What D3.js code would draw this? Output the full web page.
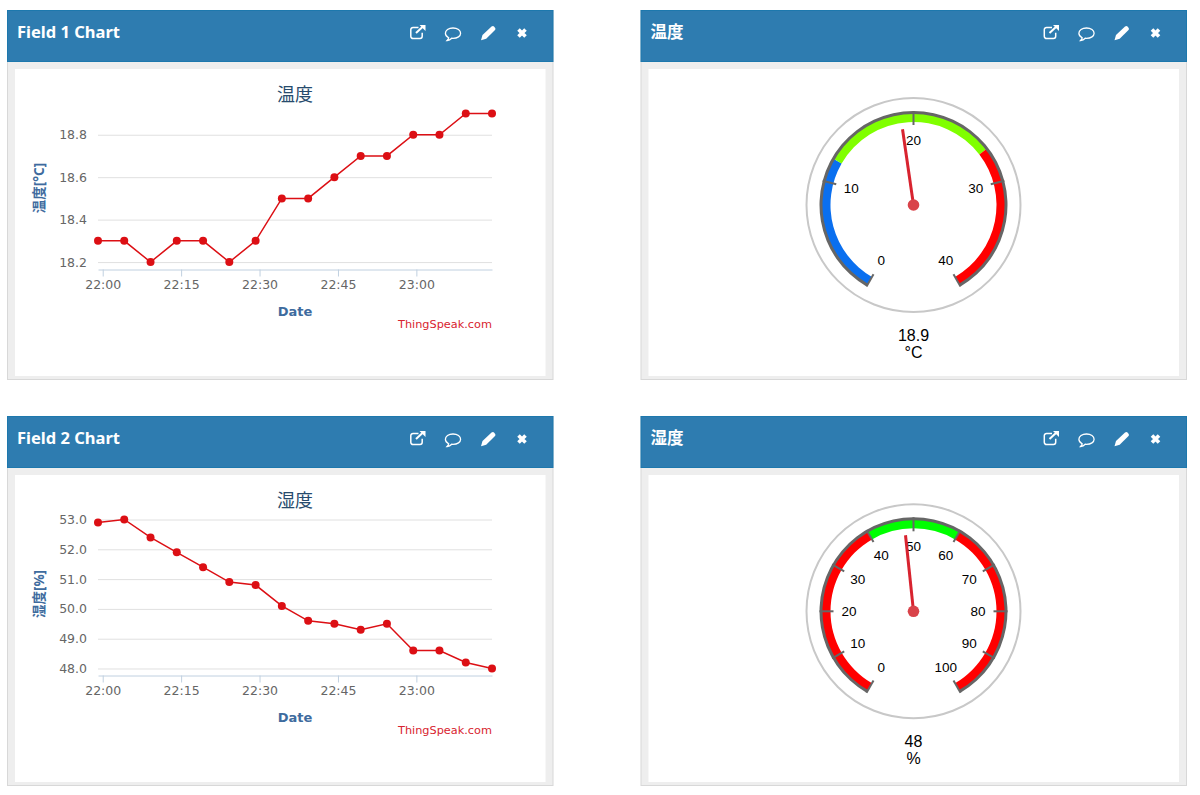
<!DOCTYPE html>
<html>
<head>
<meta charset="utf-8">
<title>Channel</title>
<script src="https://cdn.jsdelivr.net/npm/d3@7"></script>
<style>
  body { margin: 0; background: #fff; }
  svg { display: block; }
  .grid .tick line { stroke: #e0e0e0; }
  .grid .tick text { fill: #666; font: 12.5px "DejaVu Sans"; }
  .xaxis path, .xaxis line { stroke: #c0d0e0; }
  .xaxis text { fill: #666; font: 12.5px "DejaVu Sans"; }
  .gauge-label { font: 13.5px "Liberation Sans"; fill: #000; text-anchor: middle; dominant-baseline: central; }
  .gauge-value { font: 16px "Liberation Sans"; fill: #000; text-anchor: middle; dominant-baseline: central; }
</style>
</head>
<body>
<svg id="page" width="1200" height="795"></svg>
<script>
// sample times, both charts share them
var sampleTimes = ["21:59:06","22:04:07","22:09:09","22:14:10","22:19:12","22:24:13","22:29:15","22:34:16",
                   "22:39:18","22:44:19","22:49:21","22:54:22","22:59:24","23:04:25","23:09:27","23:14:28"];
var timeTicks = ["22:00:00","22:15:00","22:30:00","22:45:00","23:00:00"];

var field1Values = [18.3,18.3,18.2,18.3,18.3,18.2,18.3,18.5,18.5,18.6,18.7,18.7,18.8,18.8,18.9,18.9];
var field2Values = [52.9,53.0,52.4,51.9,51.4,50.9,50.8,50.1,49.6,49.5,49.3,49.5,48.6,48.6,48.2,48.0];
var field1Ticks = [18.2,18.4,18.6,18.8];
var field2Ticks = [48,49,50,51,52,53];

var tempTicks = [0,10,20,30,40];
var tempBands = [[0,12,"#0a6fef"],[12,27,"#80ff00"],[27,40,"#ff0000"]];
var humTicks = [0,10,20,30,40,50,60,70,80,90,100];
var humBands = [[0,40,"#ff0000"],[40,60,"#00ff00"],[60,100,"#ff0000"]];

var svg = d3.select("#page");
var parseT = d3.timeParse("%H:%M:%S");
var uiFont = '"DejaVu Sans"';
var cjkFont = '"Noto Sans CJK JP"';

function drawPanel(x, y, w, h, title) {
    var g = svg.append("g").attr("transform", "translate(" + x + "," + y + ")");
    g.append("rect").attr("x", 0.5).attr("y", 0.5).attr("width", w - 1).attr("height", h - 1)
        .attr("fill", "#eeeeee").attr("stroke", "#d8d8d8");
    g.append("rect").attr("x", 8).attr("y", 59).attr("width", w - 16).attr("height", h - 63).attr("fill", "#fff");
    g.append("rect").attr("x", 0.5).attr("y", 0.5).attr("width", w - 1).attr("height", 51)
        .attr("fill", "#2e7cb0").attr("stroke", "#1d78ad");
    g.append("text").attr("x", 10).attr("y", 21).attr("dominant-baseline", "central")
        .attr("fill", "#fff").attr("font-weight", "bold")
        .attr("font-family", '"Noto Sans",' + cjkFont).attr("font-size", 16.5).text(title);

    // header icons
    var ic = g.append("g").attr("transform", "translate(" + (w - 143.5) + ",0)");
    // external link
    ic.append("path").attr("d", "M8.5 17.5 H3 a2.2 2.2 0 0 0 -2.2 2.2 v6.6 a2.2 2.2 0 0 0 2.2 2.2 h7 a2.2 2.2 0 0 0 2.2 -2.2 v-3.5")
        .attr("fill", "none").attr("stroke", "#fff").attr("stroke-width", 1.5);
    ic.append("path").attr("d", "M6 23 L13 16.5").attr("stroke", "#fff").attr("stroke-width", 2);
    ic.append("path").attr("d", "M9.5 15 H15.5 V21 Z").attr("fill", "#fff");
    // comment
    ic.append("path").attr("d", "M43 18 c-4.5 0 -7.6 2.4 -7.6 5.3 c0 2 1.4 3.6 3.3 4.5 c-.2 1.1 -.8 1.8 -1.6 2.7 c1.8 -.2 3.4 -1 4.6 -2.3 c.4 .1 .9 .1 1.3 .1 c4.5 0 7.6 -2.2 7.6 -5 c0 -2.9 -3.1 -5.3 -7.6 -5.3 z")
        .attr("fill", "none").attr("stroke", "#fff").attr("stroke-width", 1.3);
    // pencil
    ic.append("path").attr("d", "M71 30.2 L72.5 25 L81.5 16.5 Q83 15.5 84 16.5 L85 17.7 Q86 19 85 20 L76.2 28.8 Z").attr("fill", "#fff");
    // close
    ic.append("path").attr("d", "M108.5 19.5 L115.5 26.5 M115.5 19.5 L108.5 26.5")
        .attr("stroke", "#fff").attr("stroke-width", 3.6).attr("fill", "none");
    return g;
}

function drawLineChart(g, values, ticks, yDomain, title, yTitle) {
    var times = sampleTimes.map(parseT);
    var xScale = d3.scaleTime().domain([times[0], times[times.length - 1]]).range([91, 485]);
    var yScale = d3.scaleLinear().domain(yDomain).range([259.5, 103.5]);

    g.append("g").attr("class", "grid").attr("transform", "translate(91,0)")
        .call(d3.axisLeft(yScale).tickValues(ticks).tickSize(-394).tickPadding(11).tickFormat(d3.format(".1f")))
        .call(function (a) { a.select(".domain").remove(); });

    g.append("g").attr("class", "xaxis").attr("transform", "translate(0,259.5)")
        .call(d3.axisBottom(xScale).tickValues(timeTicks.map(parseT)).tickSizeInner(7).tickSizeOuter(0)
            .tickPadding(4).tickFormat(d3.timeFormat("%H:%M")));

    var line = d3.line().x(function (d, i) { return xScale(times[i]); }).y(function (d) { return yScale(d); });
    g.append("path").datum(values).attr("d", line).attr("fill", "none").attr("stroke", "#dc0f14").attr("stroke-width", 1.5);
    g.selectAll("circle.pt").data(values).enter().append("circle").attr("class", "pt")
        .attr("cx", function (d, i) { return xScale(times[i]); })
        .attr("cy", function (d) { return yScale(d); })
        .attr("r", 4).attr("fill", "#dc0f14");

    g.append("text").attr("x", 288).attr("y", 83).attr("text-anchor", "middle").attr("dominant-baseline", "central")
        .attr("fill", "#274b6d").attr("font-family", cjkFont).attr("font-size", 18).text(title);
    g.append("text").attr("transform", "translate(32,178) rotate(-90)").attr("text-anchor", "middle")
        .attr("dominant-baseline", "central").attr("fill", "#3e6b9e").attr("font-weight", "bold")
        .attr("font-family", '"Noto Sans",' + cjkFont).attr("font-size", 13.5).text(yTitle);
    g.append("text").attr("x", 288).attr("y", 301.5).attr("text-anchor", "middle").attr("dominant-baseline", "central")
        .attr("fill", "#3e6b9e").attr("font-weight", "bold").attr("font-family", uiFont).attr("font-size", 13).text("Date");
    g.append("text").attr("x", 485).attr("y", 314).attr("text-anchor", "end").attr("dominant-baseline", "central")
        .attr("fill", "#d8232f").attr("font-family", uiFont).attr("font-size", 11.3).text("ThingSpeak.com");
}

function drawGauge(g, cx, cy, max, ticks, bands, value, unit) {
    var gauge = g.append("g").attr("transform", "translate(" + cx + "," + cy + ")");
    var angle = d3.scaleLinear().domain([0, max]).range([-150, 150]);
    var rad = function (v) { return angle(v) * Math.PI / 180; };

    gauge.append("circle").attr("r", 107).attr("fill", "none").attr("stroke", "#c8c8c8").attr("stroke-width", 2);

    var bandArc = d3.arc().innerRadius(83).outerRadius(92);
    gauge.selectAll("path.band").data(bands).enter().append("path").attr("class", "band")
        .attr("fill", function (d) { return d[2]; })
        .attr("d", function (d) { return bandArc({ startAngle: rad(d[0]), endAngle: rad(d[1]) }); });

    gauge.append("path").attr("fill", "#666")
        .attr("d", d3.arc().innerRadius(91).outerRadius(94)({ startAngle: rad(0), endAngle: rad(max) }));

    gauge.selectAll("line.tick").data(ticks).enter().append("line").attr("class", "tick")
        .attr("x1", function (d) { return 94 * Math.sin(rad(d)); })
        .attr("y1", function (d) { return -94 * Math.cos(rad(d)); })
        .attr("x2", function (d) { return 80 * Math.sin(rad(d)); })
        .attr("y2", function (d) { return -80 * Math.cos(rad(d)); })
        .attr("stroke", "#666").attr("stroke-width", 2);

    gauge.selectAll("text.gauge-label").data(ticks).enter().append("text").attr("class", "gauge-label")
        .attr("x", function (d) { return 64.5 * Math.sin(rad(d)); })
        .attr("y", function (d) { return -64.5 * Math.cos(rad(d)); })
        .text(function (d) { return d; });

    gauge.append("line")
        .attr("x1", 0).attr("y1", 0)
        .attr("x2", 76.5 * Math.sin(rad(value))).attr("y2", -76.5 * Math.cos(rad(value)))
        .attr("stroke", "#d8232f").attr("stroke-width", 3);
    gauge.append("circle").attr("r", 5.8).attr("fill", "#d9434a");

    gauge.append("text").attr("class", "gauge-value").attr("y", 130).text(value);
    gauge.append("text").attr("class", "gauge-value").attr("y", 147).text(unit);
}

var p1 = drawPanel(7, 10, 546.5, 370, "Field 1 Chart");
drawLineChart(p1, field1Values, field1Ticks, [18.165, 18.9], "温度", "温度[°C]");
var p2 = drawPanel(7, 416, 546.5, 370, "Field 2 Chart");
drawLineChart(p2, field2Values, field2Ticks, [47.765, 53.0], "湿度", "湿度[%]");
var p3 = drawPanel(640.5, 10, 546.5, 370, "温度");
drawGauge(p3, 273, 195, 40, tempTicks, tempBands, 18.9, "°C");
var p4 = drawPanel(640.5, 416, 546.5, 370, "湿度");
drawGauge(p4, 273, 195.3, 100, humTicks, humBands, 48, "%");
</script>
</body>
</html>
